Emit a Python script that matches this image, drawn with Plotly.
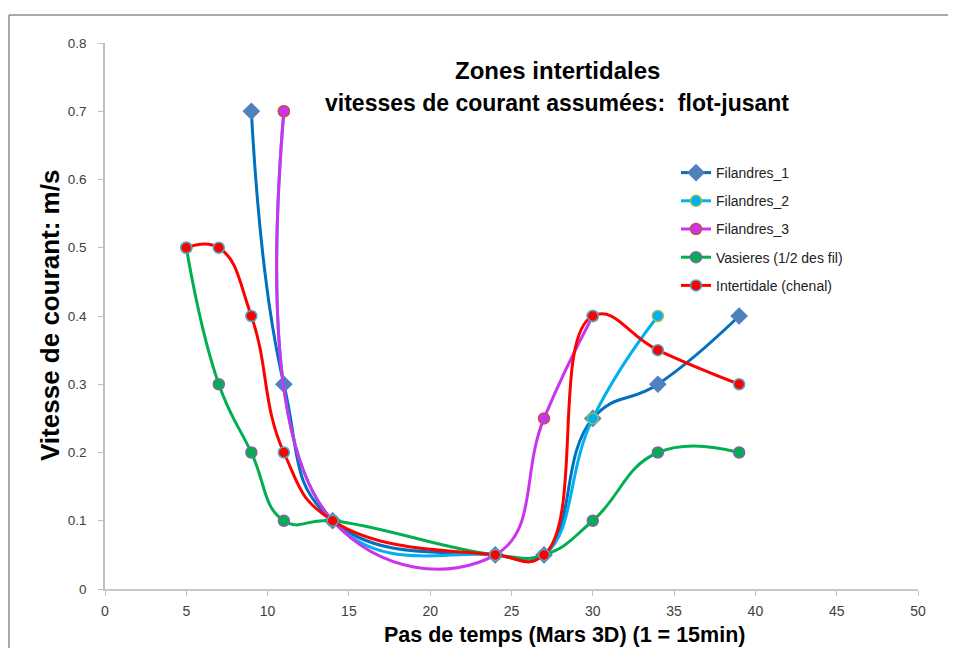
import plotly.graph_objects as go

names = ["Filandres_1", "Filandres_2", "Filandres_3", "Vasieres (1/2 des fil)", "Intertidale (chenal)"]
x_f1 = [9, 11, 14, 24, 27, 30, 34, 39]
y_f1 = [0.7, 0.3, 0.1, 0.05, 0.05, 0.25, 0.3, 0.4]
x_f2 = [11, 14, 24, 27, 30, 34]
y_f2 = [0.7, 0.1, 0.05, 0.05, 0.25, 0.4]
x_f3 = [11, 14, 24, 27, 30]
y_f3 = [0.7, 0.1, 0.05, 0.25, 0.4]
x_vas = [5, 7, 9, 11, 14, 24, 27, 30, 34, 39]
y_vas = [0.5, 0.3, 0.2, 0.1, 0.1, 0.05, 0.05, 0.1, 0.2, 0.2]
x_int = [5, 7, 9, 11, 14, 24, 27, 30, 34, 39]
y_int = [0.5, 0.5, 0.4, 0.2, 0.1, 0.05, 0.05, 0.4, 0.35, 0.3]

line_colors = ["#0070C0", "#00B0F0", "#CC33EE", "#00B050", "#FF0000"]
marker_fill = ["#4F81BD", "#00B0F0", "#CC33EE", "#00B050", "#FF0000"]
marker_edge = ["#4F81BD", "#9BBB59", "#C0504D", "#8064A2", "#4BACC6"]
symbols = ["diamond", "circle", "circle", "circle", "circle"]

series = [(x_f1, y_f1), (x_f2, y_f2), (x_f3, y_f3), (x_vas, y_vas), (x_int, y_int)]

# page has an 8px body margin; figure coordinates = screenshot coordinates - 8
OFF = 8
W, H = 940, 640
L, T = 105 - OFF, 43 - OFF
R, B = W - (918 - OFF), H - (589 - OFF)
PW, PH = W - L - R, H - T - B

def py(pix):
    return 1 - (pix - OFF - T) / PH

def px(pix):
    return (pix - OFF - L) / PW

fig = go.Figure()
for i, (xs, ys) in enumerate(series):
    fig.add_trace(go.Scatter(
        x=xs, y=ys, name=names[i], mode="lines+markers",
        line=dict(color=line_colors[i], width=3, shape="spline", smoothing=1.3),
        marker=dict(symbol=symbols[i], size=12 if i == 0 else 11, color=marker_fill[i],
                    line=dict(color=marker_edge[i], width=1.5)),
        legendgroup=str(i),
    ))

fig.update_layout(
    width=W, height=H,
    margin=dict(l=L, r=R, t=T, b=B, autoexpand=False),
    paper_bgcolor="white", plot_bgcolor="white",
    font=dict(family="Liberation Sans", color="#404040", size=13),
    showlegend=True,
    legend=dict(x=px(676), y=py(157), xanchor="left", yanchor="top",
                bgcolor="rgba(0,0,0,0)", itemwidth=30,
                font=dict(size=14, color="#222222"), tracegroupgap=7, traceorder="grouped"),
    xaxis=dict(range=[0, 50], dtick=5, tick0=0, showgrid=False, zeroline=False,
               showline=True, linecolor="#C8C8C8", linewidth=2, automargin=False,
               ticks="outside", ticklen=5, tickcolor="#BFBFBF",
               tickfont=dict(size=14, color="#404040"), ticklabelstandoff=3),
    yaxis=dict(range=[0, 0.8], dtick=0.1, tick0=0, showgrid=False, zeroline=False,
               showline=True, linecolor="#BFBFBF", linewidth=1.5, automargin=False,
               ticks="outside", ticklen=5, tickcolor="#BFBFBF",
               tickfont=dict(size=13.5, color="#404040"), ticklabelstandoff=9),
)

fig.add_annotation(xref="paper", yref="paper", x=px(557), y=py(70),
                   text="<b>Zones intertidales</b>", showarrow=False,
                   font=dict(size=24, color="#000000"), xanchor="center", yanchor="middle")
fig.add_annotation(xref="paper", yref="paper", x=px(557), y=py(103),
                   text="<b>vitesses de courant assumées:  flot-jusant</b>", showarrow=False,
                   font=dict(size=23, color="#000000"), xanchor="center", yanchor="middle")
fig.add_annotation(xref="paper", yref="paper", x=px(564), y=py(635),
                   text="<b>Pas de temps (Mars 3D) (1 = 15min)</b>", showarrow=False,
                   font=dict(size=21.5, color="#000000"), xanchor="center", yanchor="middle")
fig.add_annotation(xref="paper", yref="paper", x=px(50), y=py(316),
                   text="<b>Vitesse de courant: m/s</b>", showarrow=False, textangle=-90,
                   font=dict(size=26, color="#000000"), xanchor="center", yanchor="middle")

# outer chart frame (top and left edges visible in the window)
fig.add_shape(type="line", xref="paper", yref="paper",
              x0=px(9), x1=px(1000), y0=py(15), y1=py(15),
              line=dict(color="#8C8C8C", width=1.5), layer="below")
fig.add_shape(type="line", xref="paper", yref="paper",
              x0=px(9), x1=px(9), y0=py(15), y1=py(700),
              line=dict(color="#8C8C8C", width=1.5), layer="below")

fig.write_html("out.html")
